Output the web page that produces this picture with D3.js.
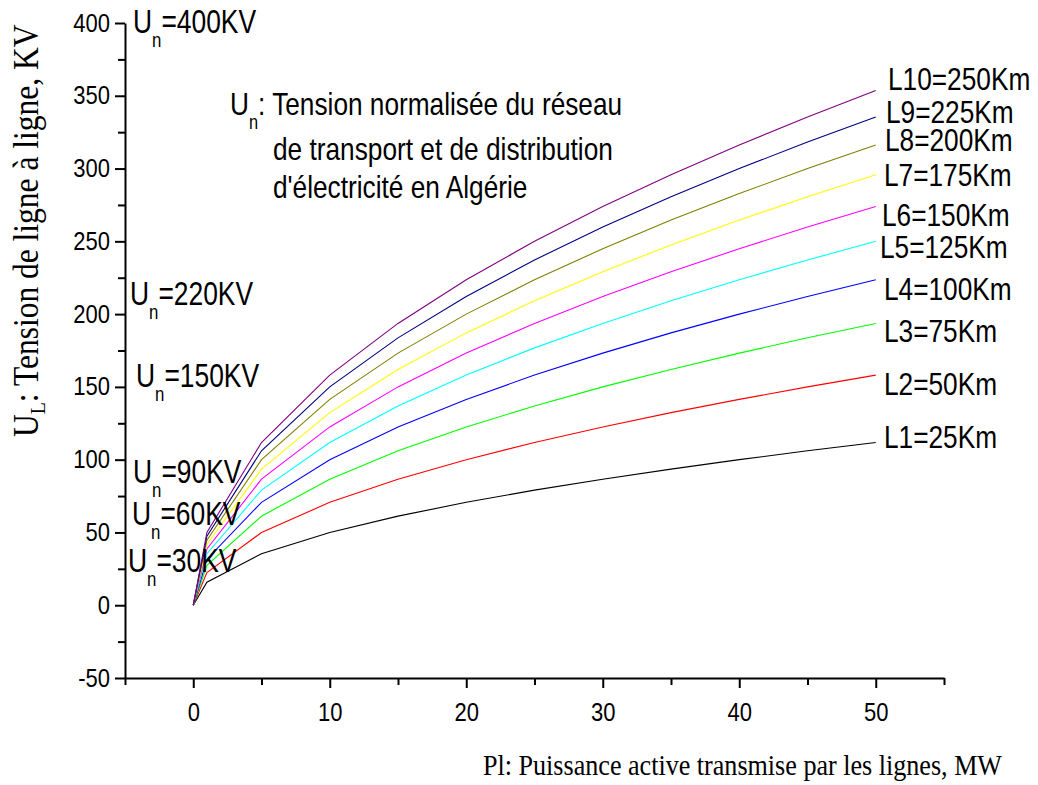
<!DOCTYPE html>
<meta charset="utf-8">
<script src="https://d3js.org/d3.v7.min.js"></script>
<style>
body { margin: 0; background: #fff; }
text { font-family: "Liberation Sans", Arial, sans-serif; fill: #000; }
.serif { font-family: "Liberation Serif", "Times New Roman", serif; }
.axis path, .axis line { stroke: #000; stroke-width: 2; }
.curve { fill: none; stroke-width: 1.1; }
</style>
<svg id="chart" width="1038" height="785"></svg>
<script>
// active power transmitted (MW)
var power = [0, 1, 5, 10, 15, 20, 25, 30, 35, 40, 45, 50];

// line-to-line voltage (kV) read for each line length
var u25  = [0, 15.8, 35.4,  50.0,  61.2,  70.7,  79.1,  86.6,  93.5, 100.0, 106.1, 111.8];
var u50  = [0, 22.4, 50.0,  70.7,  86.6, 100.0, 111.8, 122.5, 132.3, 141.4, 150.0, 158.1];
var u75  = [0, 27.4, 61.2,  86.6, 106.1, 122.5, 136.9, 150.0, 162.0, 173.2, 183.7, 193.6];
var u100 = [0, 31.6, 70.7, 100.0, 122.5, 141.4, 158.1, 173.2, 187.1, 200.0, 212.1, 223.6];
var u125 = [0, 35.4, 79.1, 111.8, 136.9, 158.1, 176.8, 193.6, 209.2, 223.6, 237.2, 250.0];
var u150 = [0, 38.7, 86.6, 122.5, 150.0, 173.2, 193.6, 212.1, 229.1, 244.9, 259.8, 273.9];
var u175 = [0, 41.8, 93.5, 132.3, 162.0, 187.1, 209.2, 229.1, 247.5, 264.6, 280.6, 295.8];
var u200 = [0, 44.7, 100.0, 141.4, 173.2, 200.0, 223.6, 244.9, 264.6, 282.8, 300.0, 316.2];
var u225 = [0, 47.4, 106.1, 150.0, 183.7, 212.1, 237.2, 259.8, 280.6, 300.0, 318.2, 335.4];
var u250 = [0, 50.0, 111.8, 158.1, 193.6, 223.6, 250.0, 273.9, 295.8, 316.2, 335.4, 353.6];

var lineNames = ["L1=25Km", "L2=50Km", "L3=75Km", "L4=100Km", "L5=125Km",
                 "L6=150Km", "L7=175Km", "L8=200Km", "L9=225Km", "L10=250Km"];
var lineColors = ["#000000", "#ff0000", "#00ff00", "#0000ff", "#00ffff",
                  "#ff00ff", "#ffff00", "#808000", "#000080", "#800080"];
var voltages = [u25, u50, u75, u100, u125, u150, u175, u200, u225, u250];

var nominal = ["400KV", "220KV", "150KV", "90KV", "60KV", "30KV"];

var xMajor = [0, 10, 20, 30, 40, 50];
var xMinor = [-5, 5, 15, 25, 35, 45, 55];
var yMajor = [-50, 0, 50, 100, 150, 200, 250, 300, 350, 400];
var yMinor = [-25, 25, 75, 125, 175, 225, 275, 325, 375];

var svg = d3.select("#chart");

var x = d3.scaleLinear().domain([-5, 55]).range([125, 944]);
var y = d3.scaleLinear().domain([-50, 400]).range([678, 23]);

// no narrow font installed: squeeze text horizontally
function squeeze(sel, k) {
  sel.each(function() {
    var w = this.getComputedTextLength();
    d3.select(this).attr("textLength", w * k).attr("lengthAdjust", "spacingAndGlyphs");
  });
}

// axes
svg.append("g")
    .attr("class", "axis")
    .attr("transform", "translate(0,678)")
    .call(d3.axisBottom(x).tickValues(xMinor).tickSize(7).tickSizeOuter(0).tickFormat(""));
svg.append("g")
    .attr("class", "axis")
    .attr("transform", "translate(0,678)")
    .call(d3.axisBottom(x).tickValues(xMajor).tickSize(10).tickSizeOuter(0).tickPadding(15)
          .tickFormat(function(d) { return String(d); }))
    .call(function(g) { g.select(".domain").remove(); })
    .selectAll("text").style("font-size", "25px").call(squeeze, 0.88);

svg.append("g")
    .attr("class", "axis")
    .attr("transform", "translate(125,0)")
    .call(d3.axisLeft(y).tickValues(yMinor).tickSize(7).tickSizeOuter(0).tickFormat(""));
svg.append("g")
    .attr("class", "axis")
    .attr("transform", "translate(125,0)")
    .call(d3.axisLeft(y).tickValues(yMajor).tickSize(10).tickSizeOuter(0).tickPadding(5)
          .tickFormat(function(d) { return String(d); }))
    .call(function(g) { g.select(".domain").remove(); })
    .selectAll("text").style("font-size", "25px").call(squeeze, 0.88);

svg.selectAll(".axis text").attr("font-family", null);

// curves
var line = d3.line()
    .x(function(d, i) { return x(power[i]); })
    .y(function(d) { return y(d); });

svg.append("g")
  .selectAll("path")
  .data(voltages)
  .enter()
  .append("path")
    .attr("class", "curve")
    .attr("stroke", function(d, i) { return lineColors[i]; })
    .attr("d", line);

// line labels at right
var labelY = [448, 395, 342, 300, 258, 226, 186, 151, 123, 90];
var labelX = [884, 884, 884, 884, 880, 882, 884, 885, 886, 888];
svg.append("g")
  .selectAll("text")
  .data(lineNames)
  .enter()
  .append("text")
    .attr("x", function(d, i) { return labelX[i]; })
    .attr("y", function(d, i) { return labelY[i]; })
    .style("font-size", "32px")
    .text(function(d) { return d; })
    .call(squeeze, 0.82);

// nominal voltage notes on the left
var noteX = [133, 130, 136, 133, 132, 128];
var noteY = [33, 305, 387, 483, 525, 572];
var notes = svg.append("g")
  .selectAll("g")
  .data(nominal)
  .enter()
  .append("g")
    .attr("transform", function(d, i) { return "translate(" + noteX[i] + "," + noteY[i] + ") scale(0.8,1)"; })
  .append("text")
    .style("font-size", "33px");
notes.append("tspan").text("U");
notes.append("tspan").attr("dy", 14).style("font-size", "21px").text("n");
notes.append("tspan").attr("dy", -14).text(function(d) { return "=" + d; });

// legend note
var note = svg.append("g")
    .attr("transform", "translate(230,115) scale(0.82,1)")
  .append("text")
    .style("font-size", "32px");
note.append("tspan").text("U");
note.append("tspan").attr("dy", 14).style("font-size", "20px").text("n");
note.append("tspan").attr("dy", -14).text(": Tension normalisée du réseau");
svg.append("text").attr("x", 273).attr("y", 160).style("font-size", "32px")
    .text("de transport et de distribution").call(squeeze, 0.82);
svg.append("text").attr("x", 273).attr("y", 198).style("font-size", "32px")
    .text("d'électricité en Algérie").call(squeeze, 0.82);

// axis titles
svg.append("text")
    .attr("class", "serif")
    .attr("x", 483)
    .attr("y", 775)
    .attr("textLength", 519)
    .attr("lengthAdjust", "spacingAndGlyphs")
    .style("font-size", "29px")
    .text("Pl: Puissance active transmise par les lignes, MW");

var ytitle = svg.append("g")
    .attr("transform", "translate(38,437) rotate(-90) scale(0.9,1)")
  .append("text")
    .attr("class", "serif")
    .style("font-size", "35px");
ytitle.append("tspan").text("U");
ytitle.append("tspan").attr("dy", 7).style("font-size", "22px").text("L");
ytitle.append("tspan").attr("dy", -7).text(": Tension de ligne à ligne, KV");
</script>
